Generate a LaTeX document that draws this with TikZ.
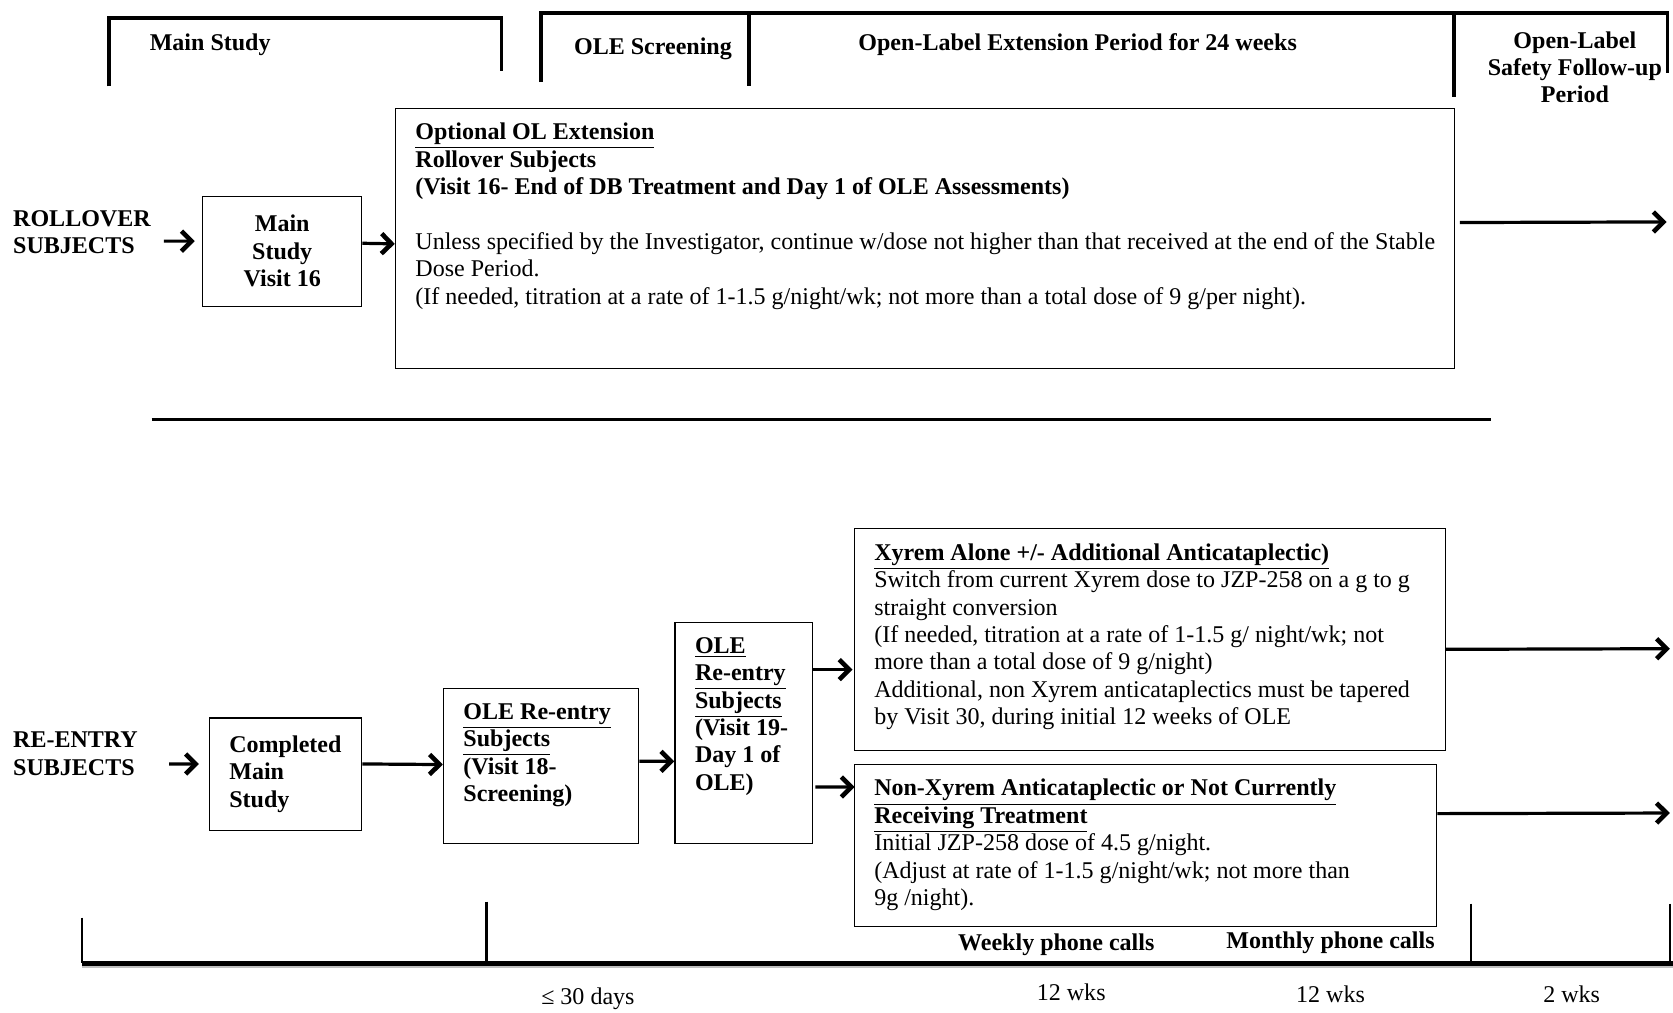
\documentclass[tikz,border=0pt]{standalone}
\usepackage{fontspec}
\setmainfont{Liberation Serif}
\usetikzlibrary{arrows.meta}
\usetikzlibrary{calc}
\newcommand\bodyfont{\fontsize{12pt}{13.7pt}\selectfont}
\tikzset{boxsize/.style 2 args={minimum width=#1*0.533pt,minimum height=#2*0.533pt}}

\begin{document}
\begin{tikzpicture}[line join=miter,x=0.533pt,y=-0.533pt,font=\bodyfont,
  boxnode/.style={draw,line width=0.6pt,inner sep=0pt},
  txt/.style={inner sep=0pt,anchor=north west,align=left},
  head/.style={inner sep=0pt,font=\bodyfont\bfseries},
  arr/.style={-{Straight Barb[length=5pt,width=10pt,line width=2.3pt]},line width=1.6pt},
  brk/.style={line width=1.8pt},
  tick/.style={line width=1.1pt}]
\useasboundingbox (0,0) rectangle (1568,949);
\draw [brk] (102,81) |- (470,17) -- (470,67);
\draw [brk] (507,77) |- (1563,12) -- (1563,68);
\draw [brk] (702,12) -- (702,81);
\draw [brk] (1363,12) -- (1363,91);
\node [head] (hmain) at (197,42) {Main Study};
\node [head] (hscr) at (612,46) {OLE Screening};
\node [head] (hole) at (1010,42) {Open-Label Extension Period for 24 weeks};
\node [head,align=center] (hfu) at (1476,63) {Open-Label\\Safety Follow-up\\Period};
\node [head,anchor=west,align=left] (roll) at (12,217.5) {ROLLOVER\\SUBJECTS};
\node [boxnode,boxsize={149}{103},align=center,font=\bodyfont\bfseries] (ms16) at (264.5,235.5) {Main\\Study\\Visit 16};
\node [boxnode,boxsize={993}{244},anchor=north west] (big) at (370,101) {};
\node [txt] (bigtxt) at (389,115) {\textbf{\underline{Optional OL Extension}}\\ \textbf{Rollover Subjects}\\ \textbf{(Visit 16- End of DB Treatment and Day 1 of OLE Assessments)}\\[13.7pt] Unless specified by the Investigator, continue w/dose not higher than that received at the end of the Stable\\ Dose Period.\\ (If needed, titration at a rate of 1-1.5 g/night/wk; not more than a total dose of 9 g/per night).};
\coordinate (fu1) at (1562,208);
\draw [arr] ($(roll.east)+(12,8.5)$) -- ($(ms16.west)+(-7,-9.5)$);
\draw [arr] ($(ms16.east)+(0,-7.5)$) -- ($(big.west)+(0,5)$);
\draw [arr] ($(big.east)+(4,-15)$) -- (fu1);
\draw [line width=1.8pt] (142,393) -- (1397,393);
\node [head,anchor=west,align=left] (reent) at (12,706.5) {RE-ENTRY\\SUBJECTS};
\node [boxnode,boxsize={143}{105},text width=56pt,align=left,font=\bodyfont\bfseries] (comp) at (267.5,725.5) {Completed\\Main\\Study};
\node [boxnode,boxsize={183}{145},anchor=north west] (ole18) at (415,645) {};
\node [txt,font=\bodyfont\bfseries] (ole18txt) at (434,659) {\underline{OLE Re-entry}\\ \underline{Subjects}\\ (Visit 18-\\ Screening)};
\node [boxnode,boxsize={129}{207},anchor=north west] (ole19) at (632,583) {};
\node [txt,font=\bodyfont\bfseries] (ole19txt) at (651,597) {\underline{OLE}\\ \underline{Re-entry}\\ \underline{Subjects}\\ (Visit 19-\\ Day 1 of\\ OLE)};
\node [boxnode,boxsize={554}{208},anchor=north west] (xyr) at (800,495) {};
\node [txt] (xyrtxt) at (819,509) {\textbf{\underline{Xyrem Alone +/- Additional Anticataplectic)}}\\ Switch from current Xyrem dose to JZP-258 on a g to g\\ straight conversion\\ (If needed, titration at a rate of 1-1.5 g/ night/wk; not\\ more than a total dose of 9 g/night)\\ Additional, non Xyrem anticataplectics must be tapered\\ by Visit 30, during initial 12 weeks of OLE};
\node [boxnode,boxsize={546}{152},anchor=north west] (nonx) at (800,716) {};
\node [txt] (nonxtxt) at (819,730) {\textbf{\underline{Non-Xyrem Anticataplectic or Not Currently}}\\ \textbf{\underline{Receiving Treatment}}\\ Initial JZP-258 dose of 4.5 g/night.\\ (Adjust at rate of 1-1.5 g/night/wk; not more than\\ 9g /night).};
\coordinate (fu2) at (1565,608);
\coordinate (fu3) at (1565,762);
\draw [arr] ($(reent.east)+(29,9.5)$) -- ($(comp.west)+(-9,-9.5)$);
\draw [arr] ($(comp.east)+(0,-9.5)$) -- ($(ole18.west)+(0,-1.5)$);
\draw [arr] ($(ole18.east)+(0,-4.5)$) -- ($(ole19.west)+(0,26.5)$);
\draw [arr] ($(ole19.east)+(0,-59.5)$) -- ($(xyr.west)+(-1,28)$);
\draw [arr] ($(ole19.east)+(2,50.5)$) -- ($(nonx.west)+(1,-55)$);
\draw [arr] ($(xyr.east)+(0,9)$) -- (fu2);
\draw [arr] ($(nonx.east)+(0,-30)$) -- (fu3);
% time line
\draw [gray!50,line width=1pt] (77,906.5) -- (1568,906.5);
\draw [line width=2.2pt] (77,903) -- (1568,903);
\draw [tick] (77,860) -- (77,903);
\draw [tick] (456,845) -- (456,903);
\draw [tick] (1379,847) -- (1379,903);
\draw [tick] (1565,847) -- (1565,903);
\node [head] (wk) at (990,885) {Weekly phone calls};
\node [head] (mo) at (1247,884) {Monthly phone calls};
\node [inner sep=0pt] (d30) at (551,936) {≤ 30 days};
\node [inner sep=0pt] (w1) at (1004,930) {12 wks};
\node [inner sep=0pt] (w2) at (1247,932) {12 wks};
\node [inner sep=0pt] (w3) at (1473,932) {2 wks};
\end{tikzpicture}
\end{document}
